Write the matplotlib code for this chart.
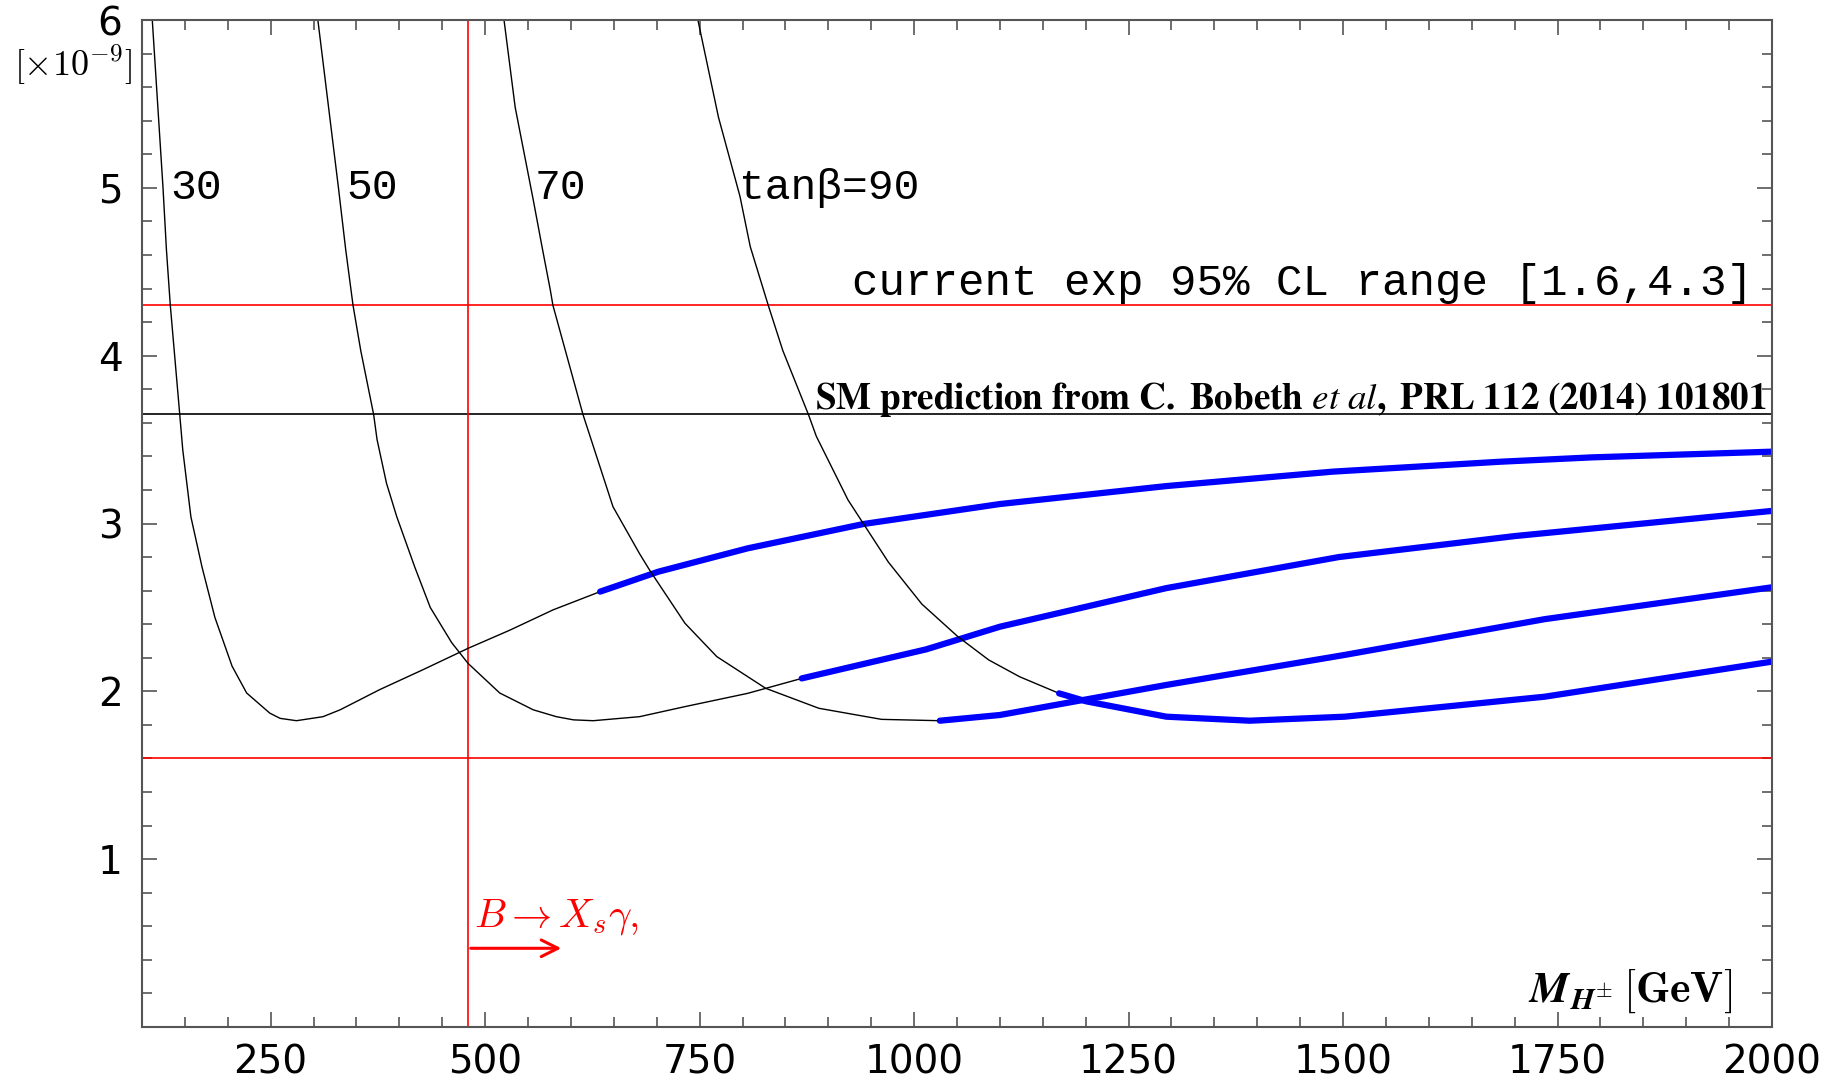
import matplotlib
matplotlib.use("Agg")
import matplotlib.pyplot as plt
from matplotlib.ticker import MultipleLocator

plt.rcParams['mathtext.fontset'] = 'cm'

# tan(beta) = 30
x30_black = [112, 124.5, 128.5, 133, 144, 147.5, 157, 170, 185, 205, 222, 249, 261, 280, 311, 331, 377, 428, 480, 529, 579, 634]
y30_black = [6.0, 5.0, 4.63, 4.3, 3.65, 3.44, 3.04, 2.74, 2.44, 2.15, 1.99, 1.87, 1.839, 1.825, 1.849, 1.89, 2.01, 2.13, 2.256, 2.365, 2.485, 2.594]
x30_blue = [634, 702, 806, 941, 1100, 1294, 1488, 1683, 1790, 2000]
y30_blue = [2.594, 2.713, 2.852, 2.997, 3.116, 3.223, 3.309, 3.368, 3.394, 3.428]

# tan(beta) = 50
x50_black = [305, 329, 337.5, 346, 355, 370, 374, 385, 397, 418, 436, 461, 480, 517, 556, 583, 603, 626, 680, 733, 806, 869]
y50_black = [6.0, 5.0, 4.63, 4.3, 4.03, 3.65, 3.50, 3.24, 3.04, 2.74, 2.50, 2.29, 2.167, 1.99, 1.89, 1.849, 1.83, 1.825, 1.849, 1.909, 1.988, 2.077]
x50_blue = [869, 1014, 1100, 1294, 1495, 1700, 2000]
y50_blue = [2.077, 2.25, 2.385, 2.615, 2.80, 2.925, 3.075]

# tan(beta) = 70
x70_black = [522, 535, 556, 567, 576, 579, 614, 649, 680, 692, 733, 770, 827, 889, 962, 1030]
y70_black = [6.0, 5.48, 4.93, 4.63, 4.39, 4.3, 3.65, 3.10, 2.82, 2.72, 2.405, 2.207, 2.018, 1.899, 1.833, 1.825]
x70_blue = [1030, 1100, 1294, 1502, 1735, 2000]
y70_blue = [1.825, 1.859, 2.038, 2.217, 2.43, 2.62]

# tan(beta) = 90
x90_black = [748, 772, 797, 809, 830, 847, 877, 886, 923, 970, 1009, 1051, 1087, 1123, 1169]
y90_black = [6.0, 5.42, 4.95, 4.65, 4.30, 4.03, 3.647, 3.52, 3.14, 2.77, 2.52, 2.326, 2.187, 2.087, 1.988]
x90_blue = [1169, 1201, 1294, 1391, 1502, 1735, 2000]
y90_blue = [1.988, 1.94, 1.849, 1.825, 1.849, 1.968, 2.177]

curve_labels = ['30', '50', '70', 'tanβ=90']
label_x = [133, 338, 558, 796]

exp_range = [1.6, 4.3]
sm_value = 3.65
bsg_bound = 480

fig = plt.figure(figsize=(18.45, 10.83), dpi=100)
ax = fig.add_axes([0.07696, 0.05171, 0.88347, 0.92982])

ax.axhline(exp_range[0], color='red', lw=1.2)
ax.axhline(exp_range[1], color='red', lw=1.2)
ax.axhline(sm_value, color='black', lw=1.2)
ax.axvline(bsg_bound, color='red', lw=1.2)

for xb, yb, xl, yl in [(x30_black, y30_black, x30_blue, y30_blue),
                       (x50_black, y50_black, x50_blue, y50_blue),
                       (x70_black, y70_black, x70_blue, y70_blue),
                       (x90_black, y90_black, x90_blue, y90_blue)]:
    ax.plot(xb, yb, color='black', lw=1.0)
    ax.plot(xl, yl, color='blue', lw=4.5, solid_capstyle='round', solid_joinstyle='round')

for lab, lx in zip(curve_labels, label_x):
    ax.text(lx, 5.0, lab, fontsize=31, family='Liberation Mono', va='center', ha='left')

ax.text(1978, 4.36, 'current exp 95% CL range [1.6,4.3]', fontsize=31.8,
        family='Liberation Mono', ha='right', va='baseline')
ax.text(1994, 3.68, r'$\mathbf{SM\ prediction\ from\ C.\ Bobeth}\ \mathit{et\ al}\mathbf{,\ PRL\ 112\ (2014)\ 101801}$',
        fontsize=26.7, ha='right', va='baseline', math_fontfamily='stix')

ax.text(487, 0.6, r'$B\rightarrow X_s\gamma,$', color='red', fontsize=29, ha='left', va='baseline')
ax.annotate('', xy=(592, 0.469), xytext=(bsg_bound, 0.469),
            arrowprops=dict(arrowstyle='->', color='red', lw=2.2, mutation_scale=30))

ax.text(1953, 0.15, r'$\mathbfit{M}_{\mathbfit{H}^{\pm}}\,[\mathbf{GeV}]$', fontsize=31.5,
        ha='right', va='baseline')

fig.text(73 / 1845, 1 - 65 / 1083, r'$[\times 10^{-9}]$', fontsize=26, ha='center', va='center')

ax.set_xlim(100, 2000)
ax.set_ylim(0, 6)
ax.set_xticks([250, 500, 750, 1000, 1250, 1500, 1750, 2000])
ax.set_yticks([1, 2, 3, 4, 5, 6])
ax.xaxis.set_minor_locator(MultipleLocator(50))
ax.yaxis.set_minor_locator(MultipleLocator(0.2))
ax.tick_params(which='both', direction='in', top=True, right=True, color='#555555', width=1.2)
ax.tick_params(which='major', length=11, labelsize=28)
ax.tick_params(which='minor', length=7)
ax.tick_params(axis='x', pad=12)
ax.tick_params(axis='y', pad=14)
for s in ax.spines.values():
    s.set_color('#555555')
    s.set_linewidth(1.5)

plt.savefig('out.png', dpi=100)
